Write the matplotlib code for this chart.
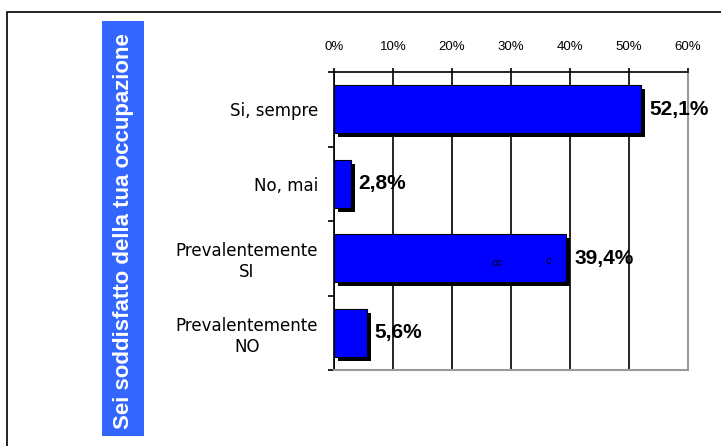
import matplotlib.pyplot as plt
from matplotlib.patches import Rectangle
from matplotlib.transforms import ScaledTranslation

plt.rcParams['font.family'] = ['Liberation Sans', 'DejaVu Sans']

# dati
categorie = ['Si, sempre', 'No, mai', 'Prevalentemente\nSI', 'Prevalentemente\nNO']
valori = [52.1, 2.8, 39.4, 5.6]
etichette = ['52,1%', '2,8%', '39,4%', '5,6%']
tick_x = [0, 10, 20, 30, 40, 50, 60]
tick_lab = ['0%', '10%', '20%', '30%', '40%', '50%', '60%']
titolo = 'Sei soddisfatto della tua occupazione'

W, H = 721, 446
fig = plt.figure(figsize=(W / 100, H / 100), dpi=100)

# cornice esterna
fig.patches.append(Rectangle((7 / W, -0.1), 1.2, 1 - 12 / H + 0.1, transform=fig.transFigure,
                             fill=False, edgecolor='black', linewidth=1.2))
# riquadro blu col titolo
fig.patches.append(Rectangle((102 / W, 1 - 436 / H), 42 / W, 415 / H, transform=fig.transFigure,
                             facecolor='#3366FF', edgecolor='none'))
fig.text(123 / W, 1 - 231 / H, titolo, rotation=90, color='white', fontsize=16,
         fontweight='bold', ha='center', va='center')

ax = fig.add_axes([334 / W, 1 - 370 / H, (688 - 334) / W, (370 - 72) / H])
y = list(range(len(categorie)))

# ombra delle barre
ombra = ax.transData + ScaledTranslation(4 / 100, -4 / 100, fig.dpi_scale_trans)
ax.barh(y, valori, height=0.64, color='black', transform=ombra, zorder=2)
ax.barh(y, valori, height=0.64, color='#0000FF', edgecolor='black', linewidth=0.8, zorder=3)

for yi, v, t in zip(y, valori, etichette):
    ax.annotate(t, (v, yi), xytext=(5.5, 0), textcoords='offset points', fontsize=15,
                fontweight='bold', va='center', ha='left', zorder=4)

# piccoli segni dentro la barra
ax.text(27.6, 2.07, 'cc', fontsize=8, ha='center', va='center', zorder=4)
ax.text(36.3, 2.04, 'c', fontsize=8, ha='center', va='center', zorder=4)

ax.set_xlim(0, 60)
ax.set_ylim(3.5, -0.5)
ax.xaxis.tick_top()
ax.set_xticks(tick_x)
ax.set_xticklabels(tick_lab, fontsize=9.5)
ax.tick_params(axis='x', direction='out', length=3, width=1.2, pad=11)
ax.grid(axis='x', color='black', linewidth=1.2, zorder=1)

ax.set_yticks(y)
ax.set_yticklabels(categorie, fontsize=12, ha='right', multialignment='center',
                   family=['DejaVu Sans'])
ax.tick_params(axis='y', length=0, pad=11.5)
ax.set_yticks([-0.5, 0.5, 1.5, 2.5, 3.5], minor=True)
ax.tick_params(axis='y', which='minor', direction='out', length=4, width=1.2)

ax.spines['left'].set_linewidth(1.2)
ax.spines['top'].set_linewidth(1.2)
ax.spines['right'].set_color('#999999')
ax.spines['bottom'].set_color('#999999')
ax.spines['right'].set_linewidth(1.5)
ax.spines['bottom'].set_linewidth(1.5)

fig.savefig('out.png', dpi=100)
